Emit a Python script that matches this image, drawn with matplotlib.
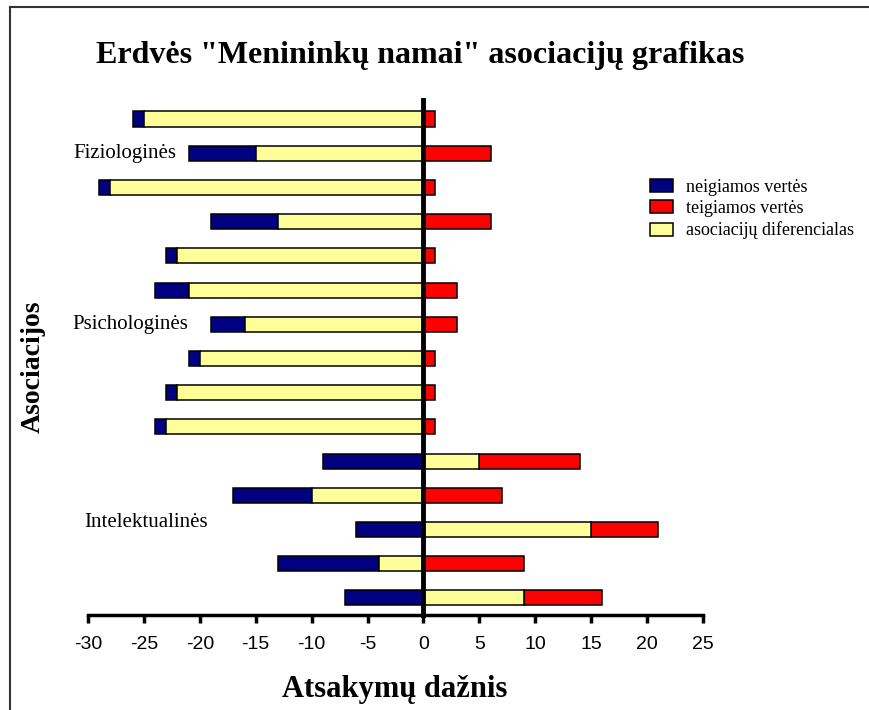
import matplotlib
matplotlib.use('Agg')
import matplotlib.pyplot as plt
from matplotlib.lines import Line2D
import numpy as np

## association chart: negative / positive answers and their difference

# rows top to bottom
neigiamos = [-26, -21, -29, -19, -23, -24, -19, -21, -23, -24, -9, -17, -6, -13, -7]
teigiamos = [1, 6, 1, 6, 1, 3, 3, 1, 1, 1, 14, 7, 21, 9, 16]
diferencialas = [-25, -15, -28, -13, -22, -21, -16, -20, -22, -23, 5, -10, 15, -4, 9]

grupes = ['Fiziologinės', 'Psichologinės', 'Intelektualinės']
grupiu_eil = [1, 6, 11.8]
grupiu_x = [-31.3, -31.4, -30.3]
xticks = list(range(-30, 30, 5))

serif = 'Liberation Serif'
sans = 'Liberation Sans'

W, H = 870, 710
fig = plt.figure(figsize=(W / 100, H / 100), dpi=100)
fig.patch.set_facecolor('white')

# axes placed so that -30..25 spans px 88..703, top 100, bottom 615
ax = fig.add_axes([88 / W, 1 - 615 / H, 615 / W, 515 / H])

neg = np.array(neigiamos)
pos = np.array(teigiamos)
dif = np.array(diferencialas)
y = np.arange(len(neg))
h = 0.44

blue_left = np.where(dif < 0, dif, 0)
red_left = np.where(dif > 0, dif, 0)

b1 = ax.barh(y, neg - blue_left, left=blue_left, height=h, color='#000080',
             edgecolor='black', linewidth=1.1, label='neigiamos vertės')
b2 = ax.barh(y, pos - red_left, left=red_left, height=h, color='#FF0000',
             edgecolor='black', linewidth=1.1, label='teigiamos vertės')
b3 = ax.barh(y, dif, height=h, color='#FFFF99',
             edgecolor='black', linewidth=1.1, label='asociacijų diferencialas')

ax.set_xlim(-30, 25)
ax.set_ylim(14.5, -0.556)

ax.spines['top'].set_visible(False)
ax.spines['right'].set_visible(False)
ax.spines['left'].set_position(('data', 0))
ax.spines['left'].set_linewidth(3.5)
ax.spines['bottom'].set_linewidth(2.5)
ax.spines['left'].set_zorder(5)
ax.set_yticks([])
ax.set_xticks(xticks)
ax.set_xticklabels([str(t) for t in xticks], fontfamily=sans, fontsize=14)
ax.tick_params(axis='x', direction='out', length=6, width=2.5, pad=9)

for g, gy, gx in zip(grupes, grupiu_eil, grupiu_x):
    ax.text(gx, gy, g, ha='left', va='center', fontfamily=serif,
            fontsize=15, clip_on=False)

fig.text(420 / W, 1 - 55 / H, 'Erdvės "Menininkų namai" asociacijų grafikas',
         ha='center', va='center', fontfamily=serif, fontweight='bold', fontsize=23)
fig.text(395 / W, 1 - 690 / H, 'Atsakymų dažnis', ha='center', va='center',
         fontfamily=serif, fontweight='bold', fontsize=22)
fig.text(33 / W, 1 - 367 / H, 'Asociacijos', ha='center', va='center',
         rotation=90, fontfamily=serif, fontweight='bold', fontsize=20)

fig.legend(handles=[b1, b2, b3], loc='center left',
           bbox_to_anchor=(650 / W, 1 - 209 / H), frameon=False,
           prop={'family': serif, 'size': 13}, handlelength=1.3,
           handleheight=0.75, handletextpad=0.7, labelspacing=0.25,
           borderpad=0, borderaxespad=0)

# outer frame (left and top edges)
fig.add_artist(Line2D([10 / W, 10 / W], [0, 1 - 7 / H], color='#333333', lw=1.5))
fig.add_artist(Line2D([10 / W, 1], [1 - 7 / H, 1 - 7 / H], color='#333333', lw=1.5))

fig.savefig('out.png', dpi=100)
